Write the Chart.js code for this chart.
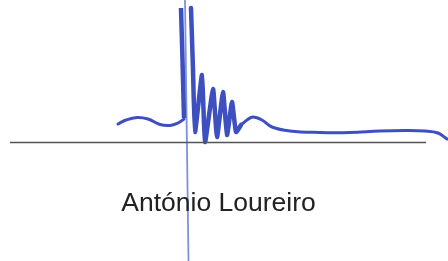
<!DOCTYPE html>
<html>
<head>
<meta charset="utf-8">
<script src="https://cdn.jsdelivr.net/npm/chart.js@4.4.0/dist/chart.umd.min.js"></script>
<style>
html,body{margin:0;padding:0;background:#fff;}
#wrap{width:448px;height:261px;}
</style>
</head>
<body>
<div id="wrap"><canvas id="c" width="448" height="261"></canvas></div>
<script>
// Signature trace values (x, y in the drawing's own units)
const baseLineX = [10, 426];
const baseLineY = [142.5, 142.5];

const cutLineX = [185, 188.5];
const cutLineY = [0, 261];

const leftCurveX = [118, 126, 137, 148, 160, 170, 178, 184];
const leftCurveY = [124, 120, 117.5, 119, 124.5, 125.5, 123, 119];

const leftStrokeX = [181, 182.5, 184];
const leftStrokeY = [8, 60, 118];

const zigzagX = [191, 193, 195, 202, 205, 213, 217, 223, 227, 232, 236, 241];
const zigzagY = [8, 70, 132, 75, 142, 89, 137, 92, 135, 102, 132, 125];

const rightCurveX = [241, 247, 253, 262, 272, 290, 320, 350, 380, 405, 425, 438, 447];
const rightCurveY = [125, 120, 117, 120, 127, 131, 132.5, 132.5, 131, 130.5, 131, 133, 139];

const nameText = "António Loureiro";
const nameX = 218.5;
const nameY = 211;

const pts = (xs, ys) => xs.map((x, i) => ({x: x, y: ys[i]}));

const inkBlue = '#3e4fc0';

const textPlugin = {
  id: 'nameText',
  afterDatasetsDraw(chart) {
    const ctx = chart.ctx;
    const px = chart.scales.x.getPixelForValue(nameX);
    const py = chart.scales.y.getPixelForValue(nameY);
    ctx.save();
    ctx.font = '26.5px "Liberation Sans", Arial, sans-serif';
    ctx.fillStyle = '#222222';
    ctx.textAlign = 'center';
    ctx.textBaseline = 'alphabetic';
    ctx.fillText(nameText, px, py);
    ctx.restore();
  }
};

const bgPlugin = {
  id: 'bg',
  beforeDraw(chart) {
    const ctx = chart.ctx;
    ctx.save();
    ctx.fillStyle = '#ffffff';
    ctx.fillRect(0, 0, chart.width, chart.height);
    ctx.restore();
  }
};

new Chart(document.getElementById('c'), {
  type: 'scatter',
  data: {
    datasets: [
      { label: 'base', data: pts(baseLineX, baseLineY), showLine: true, borderColor: '#555555', borderWidth: 1.6, pointRadius: 0, tension: 0 },
      { label: 'leftCurve', data: pts(leftCurveX, leftCurveY), showLine: true, borderColor: inkBlue, borderWidth: 3, pointRadius: 0, tension: 0.4, borderCapStyle: 'round', borderJoinStyle: 'round' },
      { label: 'leftStroke', data: pts(leftStrokeX, leftStrokeY), showLine: true, borderColor: inkBlue, borderWidth: 4.5, pointRadius: 0, tension: 0, borderCapStyle: 'butt' },
      { label: 'zigzag', data: pts(zigzagX, zigzagY), showLine: true, borderColor: inkBlue, borderWidth: 4.5, pointRadius: 0, tension: 0.15, borderCapStyle: 'round', borderJoinStyle: 'round' },
      { label: 'rightCurve', data: pts(rightCurveX, rightCurveY), showLine: true, borderColor: inkBlue, borderWidth: 3, pointRadius: 0, tension: 0.4, borderCapStyle: 'round', borderJoinStyle: 'round' },
      { label: 'cut', data: pts(cutLineX, cutLineY), showLine: true, borderColor: 'rgba(110,135,215,0.9)', borderWidth: 1.8, pointRadius: 0, tension: 0 }
    ]
  },
  options: {
    responsive: false,
    animation: false,
    clip: false,
    layout: { padding: 0 },
    events: [],
    plugins: { legend: { display: false }, tooltip: { enabled: false } },
    scales: {
      x: { type: 'linear', min: 0, max: 448, display: false },
      y: { type: 'linear', min: 0, max: 261, reverse: true, display: false }
    }
  },
  plugins: [bgPlugin, textPlugin]
});
</script>
</body>
</html>
